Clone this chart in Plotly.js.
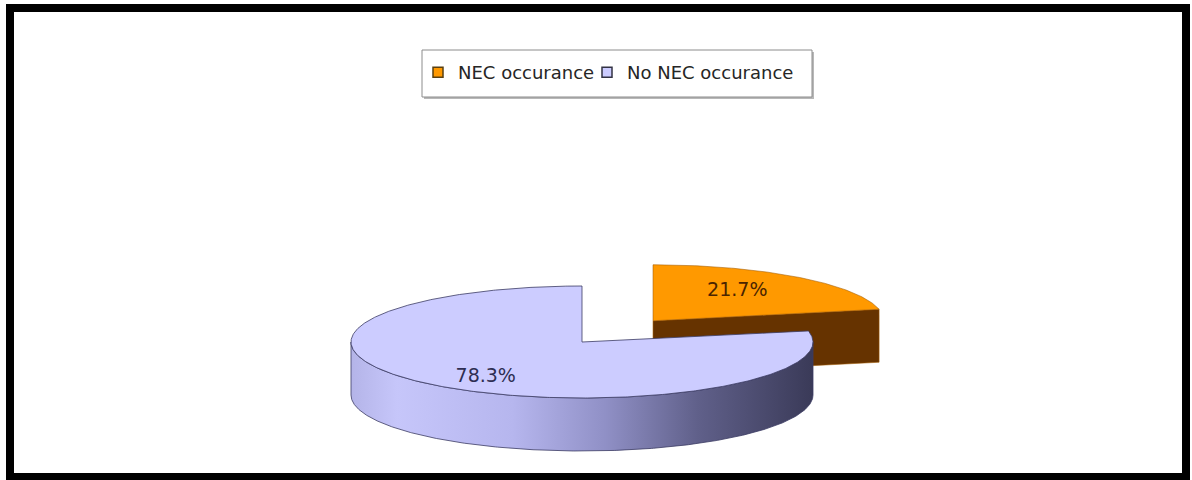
<!DOCTYPE html>
<html><head><meta charset="utf-8">
<script src="https://cdn.plot.ly/plotly-3.0.1.min.js"></script>
<style>html,body{margin:0;padding:0;background:#fff;} #chart{width:1192px;height:480px;}</style>
</head><body><div id="chart"></div>
<script>
// ---- data ----
const categories = ['NEC occurance', 'No NEC occurance'];
const values = [21.7, 78.3];

// ---- style / geometry (not data) ----
const geom = {cx: 582, cy: 342, rx: 231, ry: 56, depth: 53, explode: [0.488, 0],
              labelRx: 0.62, labelRy: 0.75, labelDx: -6, labelDy: 3};
const topColors = ['#FF9900', '#CCCCFF'];
const sideColors = ['#663300', '#8a8abf'];
const sideGradients = [null, [[0, '#b4b4e8'], [0.1, '#c6c6fa'], [0.35, '#b6b6ee'], [0.55, '#9090c6'], [0.75, '#60608a'], [1, '#3a3a58']]];
const labelColors = ['#4a2400', '#2e2e52'];
const edgeColors = ['rgba(160,90,0,0.55)', 'rgba(60,60,100,0.8)'];
const legendLine = ['#5a4010', '#333344'];
const FONT = 'DejaVu Sans, Verdana, sans-serif';

const total = values.reduce((a, b) => a + b, 0);
const rad = d => d * Math.PI / 180;

let cum = 0;
const slices = values.map((v, i) => {
  const a0 = 90 - 360 * cum / total; cum += v;
  const a1 = 90 - 360 * cum / total;
  const mid = (a0 + a1) / 2;
  const e = geom.explode[i];
  return {i, v, a0, a1, mid,
    cx: geom.cx + e * geom.rx * Math.cos(rad(mid)),
    cy: geom.cy - e * geom.ry * Math.sin(rad(mid))};
});

function pt(s, th, dz) {
  return [s.cx + geom.rx * Math.cos(rad(th)), s.cy - geom.ry * Math.sin(rad(th)) + (dz || 0)];
}
function arc(s, from, to, dz) {
  const n = Math.max(2, Math.ceil(Math.abs(to - from) / 0.5));
  const out = [];
  for (let k = 0; k <= n; k++) out.push(pt(s, from + (to - from) * k / n, dz));
  return out;
}
function poly(points, fill, edge, grad) {
  const tr = {type: 'scatter', mode: 'lines', x: points.map(p => p[0]), y: points.map(p => p[1]),
    fill: 'toself', fillcolor: fill, line: {color: edge, width: 1}, hoverinfo: 'skip', showlegend: false};
  if (grad) tr.fillgradient = {type: 'horizontal', colorscale: grad};
  return tr;
}

const traces = [];
const order = slices.slice().sort((a, b) => a.cy - b.cy); // back first
order.forEach(s => {
  const c = [s.cx, s.cy], cd = [s.cx, s.cy + geom.depth];
  // radial faces
  [[s.a0, s.a0 + 90], [s.a1, s.a1 - 90]].forEach(([a, nrm]) => {
    if (Math.sin(rad(nrm)) < -1e-6) {
      const p = pt(s, a), pd = pt(s, a, geom.depth);
      traces.push(poly([c, p, pd, cd, c], sideColors[s.i], edgeColors[s.i]));
    }
  });
  // outer front side
  const lo = s.a1, hi = s.a0;
  for (let k = -3; k <= 3; k++) {
    const f0 = Math.max(lo, -180 + 360 * k), f1 = Math.min(hi, 360 * k);
    if (f1 - f0 > 0.01) {
      const top = arc(s, f1, f0, 0), bot = arc(s, f0, f1, geom.depth);
      const pts = top.concat(bot); pts.push(top[0]);
      traces.push(poly(pts, sideColors[s.i], edgeColors[s.i], sideGradients[s.i]));
    }
  }
  // top face
  const tp = [c].concat(arc(s, s.a0, s.a1, 0)); tp.push(c);
  traces.push(poly(tp, topColors[s.i], edgeColors[s.i]));
});

// labels
traces.push({type: 'scatter', mode: 'text', hoverinfo: 'skip', showlegend: false,
  x: slices.map(s => s.cx + geom.labelRx * geom.rx * Math.cos(rad(s.mid)) + geom.labelDx),
  y: slices.map(s => s.cy - geom.labelRy * geom.ry * Math.sin(rad(s.mid)) + geom.labelDy),
  text: slices.map(s => (100 * s.v / total).toFixed(1) + '%'),
  textposition: 'middle center',
  textfont: {family: FONT, size: 19, color: labelColors}});

// legend entries
categories.forEach((name, i) => {
  traces.push({type: 'scatter', mode: 'markers', x: [null], y: [null], name: name,
    legend: i === 0 ? 'legend' : 'legend2', hoverinfo: 'skip',
    marker: {symbol: 'square', size: 10, color: topColors[i], line: {color: legendLine[i], width: 1.5}}});
});

const legendBase = {orientation: 'h', xanchor: 'left', yanchor: 'top', y: 1 - 54 / 480,
  bgcolor: 'rgba(0,0,0,0)', borderwidth: 0, font: {family: FONT, size: 18, color: '#262626'}};

const layout = {
  width: 1192, height: 480, margin: {l: 0, r: 0, t: 0, b: 0, autoexpand: false},
  paper_bgcolor: '#ffffff', plot_bgcolor: '#ffffff',
  xaxis: {range: [0, 1192], visible: false, fixedrange: true},
  yaxis: {range: [480, 0], visible: false, fixedrange: true},
  showlegend: true,
  legend: Object.assign({}, legendBase, {x: 418 / 1192}),
  legend2: Object.assign({}, legendBase, {x: 587 / 1192}),
  shapes: [
    {type: 'rect', xref: 'x', yref: 'y', x0: 424, y0: 52, x1: 814, y1: 99, fillcolor: 'rgba(0,0,0,0.28)', line: {width: 0}, layer: 'below'},
    {type: 'rect', xref: 'x', yref: 'y', x0: 422, y0: 50, x1: 812, y1: 97, fillcolor: '#ffffff', line: {color: '#8c8c8c', width: 1}, layer: 'below'},
    {type: 'rect', xref: 'x', yref: 'y', x0: 10, y0: 8, x1: 1186, y1: 477, line: {color: '#000000', width: 8}, layer: 'above'}
  ]
};

Plotly.newPlot('chart', traces, layout, {staticPlot: true, displayModeBar: false});
</script></body></html>
